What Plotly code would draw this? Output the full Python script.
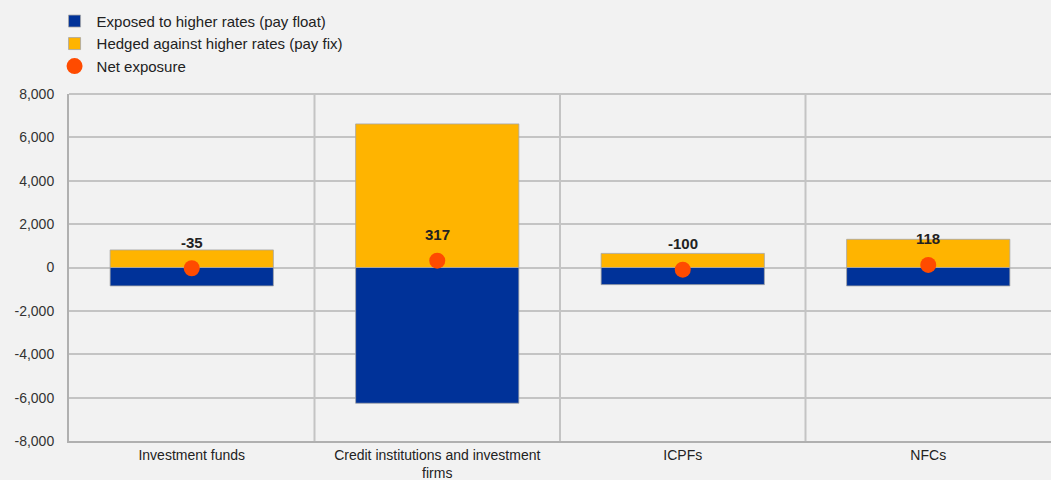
import plotly.graph_objects as go

categories = ["Investment funds", "Credit institutions and investment<br>firms", "ICPFs", "NFCs"]
exposed = [-850, -6260, -790, -850]
hedged = [810, 6620, 650, 1300]
net = [-35, 317, -100, 118]
net_labels = ["-35", "317", "-100", "118"]
y_ticks = [-8000, -6000, -4000, -2000, 0, 2000, 4000, 6000, 8000]
y_ticktext = ["-8,000", "-6,000", "-4,000", "-2,000", "0", "2,000", "4,000", "6,000", "8,000"]

BLUE = "#003299"
YELLOW = "#ffb400"
ORANGE = "#ff4b00"
BG = "#f2f2f2"
GRID = "#c4c4c4"
FONT = "Liberation Sans, Arial, sans-serif"

fig = go.Figure()
fig.add_trace(go.Bar(
    x=categories, y=exposed, name="Exposed to higher rates (pay float)",
    marker=dict(color=BLUE, line=dict(color="#a6a6a6", width=0.8)), width=0.665,
))
fig.add_trace(go.Bar(
    x=categories, y=hedged, name="Hedged against higher rates (pay fix)",
    marker=dict(color=YELLOW, line=dict(color="#a6a6a6", width=0.8)), width=0.665,
))
fig.add_trace(go.Scatter(
    x=categories, y=net, name="Net exposure", mode="markers",
    marker=dict(color=ORANGE, size=16),
))

for c, v, t in zip(categories, net, net_labels):
    fig.add_annotation(x=c, y=v, text="<b>" + t + "</b>", showarrow=False,
                       yshift=26, font=dict(size=15, color="#222222", family=FONT))

shapes = []
for b in [0.5, 1.5, 2.5]:
    shapes.append(dict(type="line", xref="x", yref="paper", x0=b, x1=b, y0=0, y1=1,
                       line=dict(color=GRID, width=2), layer="below"))

fig.update_layout(
    width=1051, height=480,
    paper_bgcolor=BG, plot_bgcolor=BG,
    margin=dict(l=69, r=0, t=94, b=39, autoexpand=False),
    barmode="relative",
    font=dict(family=FONT, size=14, color="#333333"),
    showlegend=True,
    legend=dict(
        xref="container", yref="container", x=0.05, y=0.99,
        xanchor="left", yanchor="top", bgcolor="rgba(0,0,0,0)",
        font=dict(size=15, color="#222222"), traceorder="normal",
        itemwidth=34, tracegroupgap=0,
    ),
    xaxis=dict(
        type="category", range=[-0.5, 3.5], showgrid=False,
        showline=True, linecolor="#b0b0b0", linewidth=2,
        ticks="", ticklabelstandoff=0,
        tickfont=dict(size=14, color="#222222"),
    ),
    yaxis=dict(
        range=[-8000, 8000], tickvals=y_ticks, ticktext=y_ticktext,
        showgrid=True, gridcolor=GRID, gridwidth=2,
        zeroline=True, zerolinecolor=GRID, zerolinewidth=2,
        showline=True, linecolor="#b0b0b0", linewidth=2,
        ticks="", ticklabelstandoff=10, tickfont=dict(size=14, color="#333333"),
    ),
    shapes=shapes,
)
fig.add_shape(type="line", xref="paper", yref="paper", x0=0, x1=1, y0=1, y1=1,
              line=dict(color=GRID, width=2), layer="below")

fig.write_html("out.html", config={"displayModeBar": False},
               post_script="document.body.style.margin='0';")
